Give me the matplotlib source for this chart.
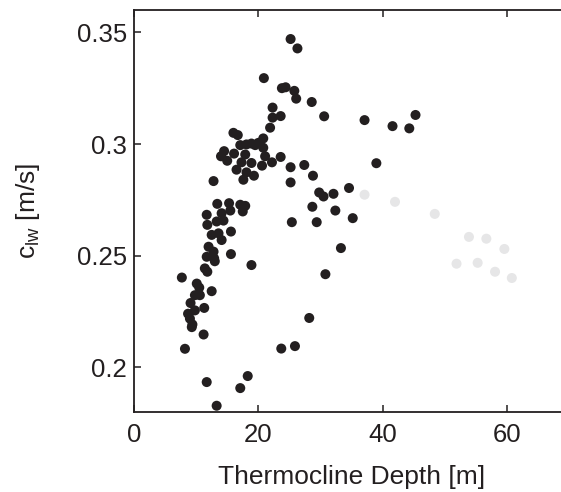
import matplotlib
matplotlib.use('Agg')
import matplotlib.pyplot as plt

plt.rcParams['font.family'] = ['Liberation Sans', 'DejaVu Sans']
plt.rcParams['mathtext.fontset'] = 'custom'
plt.rcParams['mathtext.rm'] = 'Liberation Sans'

# thermocline depth [m] / wave speed [m/s], dark points
depth = [25.2, 26.3, 20.9, 23.8, 24.4, 25.8, 26.1, 28.6, 30.6, 22.3,
         22.3, 23.6, 21.9, 16.0, 16.7, 20.8, 17.1, 18.1, 18.9, 20.0,
         20.8, 14.5, 14.0, 16.1, 17.9, 21.1, 17.3, 18.9, 20.6, 22.2,
         23.6, 25.2, 27.4, 28.8, 18.1, 19.3, 17.6, 12.8, 25.2, 29.8,
         30.5, 37.1, 41.6, 44.3, 45.3, 39.0, 32.1, 34.6, 28.7, 32.4,
         29.4, 35.2, 33.3, 30.8, 25.4, 28.2, 23.7, 25.9, 18.3, 17.1,
         11.7, 13.3, 8.2, 11.2, 7.7, 12.5, 15.6, 18.9, 15.6, 13.4,
         15.3, 17.1, 17.9, 17.5, 15.5, 14.1, 11.7, 11.8, 13.3, 14.4,
         12.5, 13.6, 14.1, 12.0, 12.8, 11.7, 12.9, 11.4, 11.8, 10.1,
         10.5, 9.8, 10.6, 9.1, 11.3, 8.7, 9.8, 9.0, 9.4, 9.3,
         15.0, 16.5, 19.5, 13.0]
speed = [0.347, 0.3428, 0.3295, 0.325, 0.3254, 0.3238, 0.3203, 0.3188, 0.3124, 0.3163,
         0.3118, 0.3125, 0.3073, 0.305, 0.304, 0.3025, 0.2995, 0.2998, 0.3002, 0.3005,
         0.2983, 0.2968, 0.2945, 0.2957, 0.2953, 0.2945, 0.2918, 0.2915, 0.2903, 0.2918,
         0.2942, 0.2896, 0.2906, 0.2858, 0.2873, 0.2858, 0.284, 0.2834, 0.2828, 0.2783,
         0.2765, 0.3107, 0.308, 0.307, 0.313, 0.2914, 0.2777, 0.2803, 0.2719, 0.2702,
         0.265, 0.2668, 0.2534, 0.2417, 0.265, 0.2221, 0.2084, 0.2095, 0.1961, 0.1907,
         0.1934, 0.1828, 0.2083, 0.2147, 0.2402, 0.2341, 0.2507, 0.2458, 0.2608, 0.2732,
         0.2735, 0.2728, 0.2723, 0.2698, 0.2702, 0.269, 0.2683, 0.2638, 0.2653, 0.2657,
         0.2593, 0.26, 0.257, 0.254, 0.2518, 0.2495, 0.2488, 0.2443, 0.2428, 0.2375,
         0.2357, 0.2323, 0.2323, 0.2288, 0.2266, 0.224, 0.2255, 0.2218, 0.2192, 0.218,
         0.2925, 0.2885, 0.2995, 0.2475]

# light grey points
depth_grey = [37.1, 42.0, 48.4, 53.9, 56.7, 59.6, 51.9, 55.3, 58.1, 60.8]
speed_grey = [0.2773, 0.2741, 0.2687, 0.2584, 0.2576, 0.253, 0.2464, 0.2468, 0.2428, 0.24]

xticks = [0, 20, 40, 60]
yticks = [0.2, 0.25, 0.3, 0.35]
ytick_labels = ['0.2', '0.25', '0.3', '0.35']

fig = plt.figure(figsize=(5.61, 4.92), dpi=100)
ax = fig.add_axes([134/561, 80/492, 435/561, 402/492])

ax.scatter(depth_grey, speed_grey, s=52, c='#e6e6e7', edgecolors='none', zorder=2)
ax.scatter(depth, speed, s=52, c='#231f20', edgecolors='none', zorder=3)

ax.set_xlim(0, 70)
ax.set_ylim(0.18, 0.36)
ax.set_xticks(xticks)
ax.set_xticklabels([str(t) for t in xticks])
ax.set_yticks(yticks)
ax.set_yticklabels(ytick_labels)
ax.tick_params(direction='in', length=5, width=1.1, top=True, right=False,
               labelsize=18.5, colors='#231f20')
ax.tick_params(axis='x', pad=8)
ax.tick_params(axis='y', pad=5)
for s in ax.spines.values():
    s.set_linewidth(1.3)
    s.set_color('#231f20')
ax.spines['right'].set_visible(False)

ax.set_xlabel('Thermocline Depth [m]', fontsize=19, color='#231f20', labelpad=13)
ax.set_ylabel(r'c$_{\mathrm{lw}}$ [m/s]', fontsize=19, color='#231f20', labelpad=25)

fig.savefig('out.png', dpi=100)
